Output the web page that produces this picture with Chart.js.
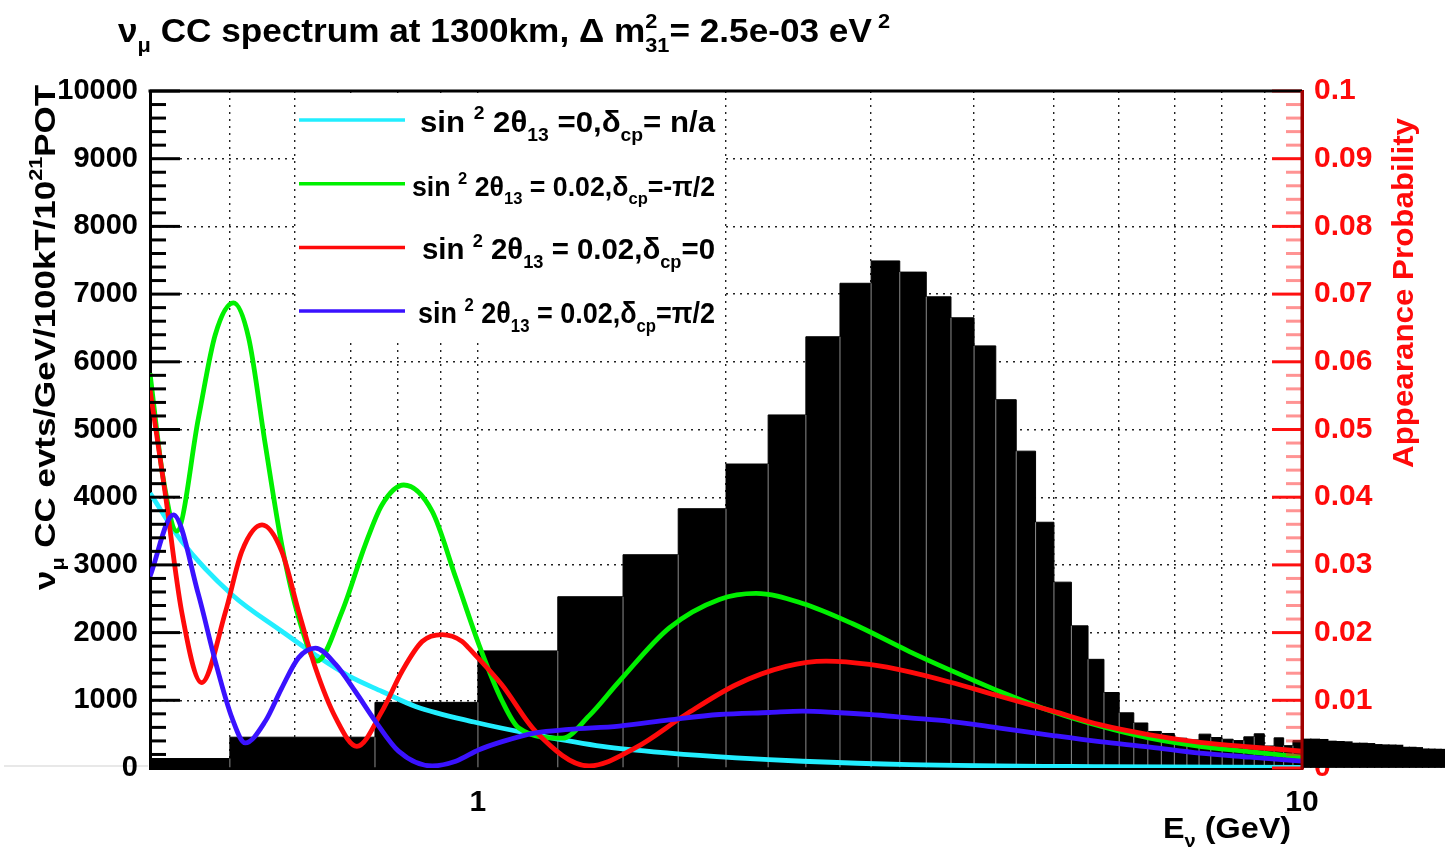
<!DOCTYPE html>
<html>
<head>
<meta charset="utf-8">
<script src="https://cdn.jsdelivr.net/npm/chart.js@4.4.1/dist/chart.umd.min.js"></script>
<style>
  html, body { margin: 0; padding: 0; background: #fff; }
  #wrap { width: 1445px; height: 847px; }
</style>
</head>
<body>
<div id="wrap"><canvas id="spectrum" width="1445" height="847"></canvas></div>
<script>
// =========================
// DATA
// =========================
// numu CC spectrum, 0.25 GeV bins (low edges), events/GeV/100kT/1e21 POT
const histLowEdges = [0.25, 0.5, 0.75, 1.0, 1.25, 1.5, 1.75, 2.0, 2.25, 2.5, 2.75, 3.0, 3.25, 3.5, 3.75,
  4.0, 4.25, 4.5, 4.75, 5.0, 5.25, 5.5, 5.75, 6.0, 6.25, 6.5, 6.75, 7.0, 7.25, 7.5, 7.75,
  8.0, 8.25, 8.5, 8.75, 9.0, 9.25, 9.5, 9.75];
const histValues = [140, 455, 970, 1730, 2530, 3150, 3830, 4490, 5215, 6370, 7160, 7490, 7325, 6960, 6650,
  6235, 5440, 4680, 3630, 2745, 2100, 1605, 1115, 815, 665, 540, 510, 440, 415, 500, 450,
  425, 405, 460, 505, 325, 445, 330, 405];
const histTopEdge = 10;

// part of the spectrum drawn past the 10 GeV frame edge (bin centres)
const tailCenters = [10.125, 10.375, 10.625, 10.875, 11.125, 11.375, 11.625, 11.875, 12.125, 12.375,
  12.625, 12.875, 13.125, 13.375, 13.625, 13.875, 14.125, 14.375, 14.625, 14.875];
const tailValues = [425, 425, 420, 395, 390, 385, 365, 365, 360, 345, 340, 338, 335, 305, 305, 300, 280, 278, 276, 274];

// appearance probability curves (energy GeV, probability)
const cyanE = [0.4, 0.437, 0.503, 0.578, 0.635, 0.697, 0.765, 0.84, 0.989, 1.175, 1.416, 1.707, 2.057, 2.478, 3.339, 5.683, 10];
const cyanP = [0.0406, 0.0335, 0.0256, 0.0202, 0.0167, 0.0136, 0.0113, 0.0091, 0.0068, 0.0049, 0.0032, 0.0022, 0.0015, 0.0010, 0.0005, 0.0002, 0.0001];

const greenE = [0.4, 0.415, 0.431, 0.458, 0.48, 0.505, 0.527, 0.552, 0.578, 0.606, 0.638, 0.684, 0.73, 0.765, 0.813,
  0.88, 0.94, 1.003, 1.07, 1.121, 1.266, 1.364, 1.484, 1.707, 1.963, 2.175, 2.478, 2.85, 3.339, 3.736, 4.297,
  4.986, 5.683, 6.538, 7.517, 8.645, 10];
const greenP = [0.0583, 0.0428, 0.0350, 0.0517, 0.0640, 0.0687, 0.0635, 0.0478, 0.0330, 0.0222, 0.0158, 0.0231, 0.0330, 0.0389, 0.0418,
  0.0379, 0.0281, 0.0182, 0.0099, 0.0059, 0.0044, 0.0077, 0.0128, 0.0207, 0.0249, 0.0258, 0.0243, 0.0213, 0.0172, 0.0145, 0.0113,
  0.0083, 0.0062, 0.0044, 0.0032, 0.0024, 0.0016];

const redE = [0.4, 0.417, 0.437, 0.462, 0.494, 0.517, 0.547, 0.578, 0.606, 0.635, 0.672, 0.713, 0.765, 0.809, 0.856,
  0.905, 0.957, 0.975, 1.069, 1.175, 1.364, 1.554, 1.788, 2.057, 2.365, 2.646, 2.987, 3.339, 3.736, 4.297, 4.986,
  5.683, 6.538, 7.517, 8.645, 10];
const redP = [0.0559, 0.0409, 0.0231, 0.0126, 0.0231, 0.0320, 0.0359, 0.0320, 0.0231, 0.0148, 0.0074, 0.0032, 0.0084, 0.0143, 0.0187,
  0.0197, 0.0187, 0.0177, 0.0123, 0.0054, 0.0003, 0.0030, 0.0079, 0.0123, 0.0150, 0.0158, 0.0153, 0.0142, 0.0127, 0.0106, 0.0084,
  0.0064, 0.0049, 0.0038, 0.0031, 0.0025];

const blueE = [0.4, 0.427, 0.458, 0.48, 0.503, 0.522, 0.552, 0.578, 0.606, 0.635, 0.672, 0.71, 0.751, 0.801, 0.88,
  0.94, 1.003, 1.07, 1.175, 1.29, 1.484, 1.707, 1.963, 2.257, 2.478, 2.72, 2.987, 3.339, 3.736, 4.297, 4.986,
  5.683, 6.538, 7.517, 8.645, 10];
const blueP = [0.0283, 0.0374, 0.0256, 0.0158, 0.0074, 0.0037, 0.0069, 0.0118, 0.0163, 0.0177, 0.0153, 0.0113, 0.0069, 0.0025, 0.0003,
  0.0010, 0.0027, 0.0039, 0.0052, 0.0057, 0.0062, 0.0071, 0.0079, 0.0082, 0.0084, 0.0082, 0.0079, 0.0074, 0.0069, 0.0059, 0.0048,
  0.0039, 0.0031, 0.0022, 0.0016, 0.0010];

// axes
const xGridValues = [0.4, 0.5, 0.6, 0.7, 0.8, 0.9, 1, 2, 3, 4, 5, 6, 7, 8, 9, 10];
const xLabelValues = [1, 10];
const xRange = [0.4, 10];
const yRange = [0, 10000];
const probRange = [0, 0.1];

// texts (^{..} superscript, _{..} subscript)
const titleText = "ν_{μ} CC spectrum at 1300km, Δ m^{2}_{31}= 2.5e-03 eV^{ 2}";
const yTitleText = "ν_{μ} CC evts/GeV/100kT/10^{21}POT";
const probTitleText = "Appearance Probability";
const xTitleText = "E_{ν} (GeV)";
const curveLabels = [
  "sin ^{2} 2θ_{13} =0,δ_{cp}= n/a",
  "sin ^{2} 2θ_{13} = 0.02,δ_{cp}=-π/2",
  "sin ^{2} 2θ_{13} = 0.02,δ_{cp}=0",
  "sin ^{2} 2θ_{13} = 0.02,δ_{cp}=π/2"
];
const curveColors = ["#22eeff", "#00f000", "#ff0a0a", "#3a12ff"];

// =========================
// HELPERS
// =========================
const FONT = "'Liberation Sans', Arial, Helvetica, sans-serif";
const pairs = (xs, ys) => xs.map((x, i) => ({ x, y: ys[i] }));

const parseRich = (str) => {                         // split "a^{b}_{c}" into pieces
  const parts = [];
  const re = /([\^_])\{([^}]*)\}/g;
  let last = 0, m;
  while ((m = re.exec(str))) {
    if (m.index > last) parts.push({ t: str.slice(last, m.index), k: "n" });
    parts.push({ t: m[2], k: m[1] === "^" ? "sup" : "sub" });
    last = re.lastIndex;
  }
  if (last < str.length) parts.push({ t: str.slice(last), k: "n" });
  return parts;
};

// draws TLatex-like text; "width" stretches the run to a given length
const drawRich = (ctx, str, x, y, size, color, align, width) => {
  const parts = parseRich(str);
  const small = size * 0.62;
  const shift = (k) => (k === "sup" ? -size * 0.42 : k === "sub" ? size * 0.3 : 0);
  const items = [];
  let cx = 0;
  for (let i = 0; i < parts.length; i++) {
    const p = parts[i];
    const s = p.k === "n" ? size : small;
    ctx.font = `bold ${s}px ${FONT}`;
    const w = ctx.measureText(p.t).width;
    items.push({ t: p.t, s, x: cx, dy: shift(p.k) });
    const nx = parts[i + 1];
    if (p.k !== "n" && nx && nx.k !== "n" && nx.k !== p.k) {    // stacked sup + sub
      const w2 = ctx.measureText(nx.t).width;
      items.push({ t: nx.t, s, x: cx, dy: shift(nx.k) });
      cx += Math.max(w, w2);
      i++;
    } else {
      cx += w;
    }
  }
  const total = width || cx;
  const f = total / cx;
  const x0 = align === "right" ? x - total : align === "center" ? x - total / 2 : x;
  ctx.save();
  ctx.translate(x0, y);
  ctx.scale(f, 1);
  ctx.fillStyle = color;
  ctx.textAlign = "left";
  ctx.textBaseline = "alphabetic";
  items.forEach(it => {
    ctx.font = `bold ${it.s}px ${FONT}`;
    ctx.fillText(it.t, it.x, it.dy);
  });
  ctx.restore();
  return total;
};

// =========================
// ROOT-STYLE DECORATIONS (inner ticks, frame, legend, titles)
// =========================
const legendSizes = [30, 28, 30, 29];                 // TLegend scales each row differently
const legendWidths = [295, 303, 293, 297];

const rootDecor = {
  id: "rootDecor",
  afterDatasetsDraw(chart) {
    const { ctx, chartArea: a, scales } = chart;
    const y = scales.y, y2 = scales.y2;
    ctx.save();

    // inner ticks on the left axis
    ctx.lineWidth = 3;
    ctx.strokeStyle = "#000";
    for (let v = yRange[0]; v <= yRange[1]; v += 200) {
      const py = y.getPixelForValue(v);
      const len = v % 1000 === 0 ? 30 : 16;
      ctx.beginPath(); ctx.moveTo(a.left, py); ctx.lineTo(a.left + len, py); ctx.stroke();
    }
    // inner ticks on the right (probability) axis
    for (let k = 0; k <= 50; k++) {
      const py = y2.getPixelForValue(k * 0.002);
      const major = k % 5 === 0;
      ctx.strokeStyle = major ? "#ff1010" : "rgba(255,40,40,0.5)";
      const len = major ? 30 : 16;
      ctx.beginPath(); ctx.moveTo(a.right, py); ctx.lineTo(a.right - len, py); ctx.stroke();
    }
    // frame: top black, right dark red
    ctx.strokeStyle = "#000";
    ctx.beginPath(); ctx.moveTo(a.left - 1.5, a.top); ctx.lineTo(a.right, a.top); ctx.stroke();
    ctx.strokeStyle = "#a00000";
    ctx.beginPath(); ctx.moveTo(a.right, a.top); ctx.lineTo(a.right, a.bottom + 2); ctx.stroke();
    // faint baseline left of the zero label
    ctx.strokeStyle = "rgba(0,0,0,0.18)";
    ctx.lineWidth = 1;
    ctx.beginPath(); ctx.moveTo(4, a.bottom - 2); ctx.lineTo(a.left - 2, a.bottom - 2); ctx.stroke();

    // legend box
    const box = { left: 298, top: 93, right: 722, bottom: 338 };
    ctx.fillStyle = "#fff";
    ctx.fillRect(box.left, box.top, box.right - box.left, box.bottom - box.top);
    chart.data.datasets.filter(ds => ds.legendRow !== undefined).forEach(ds => {
      const r = ds.legendRow;
      const ly = 120 + r * 63.7;
      ctx.strokeStyle = ds.borderColor;
      ctx.lineWidth = 3.5;
      ctx.beginPath(); ctx.moveTo(box.left + 1, ly); ctx.lineTo(405, ly); ctx.stroke();
      drawRich(ctx, ds.label, 715, ly + 12, legendSizes[r], "#000", "right", legendWidths[r]);
    });

    // titles
    drawRich(ctx, titleText, 118, 42, 33, "#000", "left", 772);
    drawRich(ctx, xTitleText, 1163, 838, 29, "#000", "left", 128);

    ctx.save();
    ctx.translate(55, 590);
    ctx.rotate(-Math.PI / 2);
    drawRich(ctx, yTitleText, 0, 0, 30, "#000", "left", 505);
    ctx.restore();

    ctx.save();
    ctx.translate(1413, 293);
    ctx.rotate(-Math.PI / 2);
    drawRich(ctx, probTitleText, 0, 0, 30, "#ff0a0a", "center", 350);
    ctx.restore();

    ctx.restore();
  }
};

// =========================
// DATASETS
// =========================
const histStep = pairs(histLowEdges, histValues).concat([{ x: histTopEdge, y: histValues[histValues.length - 1] }]);
const binSeparators = histLowEdges.slice(1).map((e, i) => ({ x: e, y: Math.min(histValues[i], histValues[i + 1]) }));

const curve = (label, xs, ys, color, row, order) => ({
  type: "line",
  label,
  data: pairs(xs, ys),
  yAxisID: "y2",
  borderColor: color,
  backgroundColor: color,
  borderWidth: 4.8,
  pointRadius: 0,
  fill: false,
  cubicInterpolationMode: "monotone",
  legendRow: row,
  order
});

const datasets = [
  curve(curveLabels[0], cyanE, cyanP, curveColors[0], 0, 4),
  curve(curveLabels[1], greenE, greenP, curveColors[1], 1, 3),
  curve(curveLabels[2], redE, redP, curveColors[2], 2, 2),
  curve(curveLabels[3], blueE, blueP, curveColors[3], 3, 1),
  {
    type: "bar",                                   // thin gray bin edges seen inside the black bars
    label: "edges",
    data: binSeparators,
    yAxisID: "y",
    backgroundColor: "#8c8c8c",
    barThickness: 1,
    grouped: false,
    inflateAmount: 0,
    order: 5
  },
  {
    type: "bar",                                   // spectrum beyond 10 GeV, outside the frame
    label: "tail",
    data: pairs(tailCenters, tailValues),
    yAxisID: "y",
    backgroundColor: "#000",
    barThickness: "flex",
    barPercentage: 1,
    categoryPercentage: 1,
    inflateAmount: 0.6,
    clip: false,
    order: 6
  },
  {
    type: "line",                                  // main histogram
    label: "spectrum",
    data: histStep,
    yAxisID: "y",
    stepped: true,
    borderColor: "#000",
    borderWidth: 1,
    backgroundColor: "#000",
    fill: "origin",
    pointRadius: 0,
    order: 7
  }
];

// =========================
// CHART
// =========================
const dotted = [2, 5];

new Chart(document.getElementById("spectrum"), {
  type: "line",
  data: { datasets },
  options: {
    responsive: false,
    animation: false,
    events: [],
    layout: { padding: { top: 91, left: 0, right: 0, bottom: 0 } },
    plugins: { legend: { display: false }, title: { display: false }, tooltip: { enabled: false } },
    scales: {
      x: {
        type: "logarithmic",
        min: xRange[0],
        max: xRange[1],
        offset: false,
        afterBuildTicks: (s) => { s.ticks = xGridValues.map(v => ({ value: v })); },
        afterFit: (s) => { s.height = 79; },
        ticks: {
          autoSkip: false,
          maxRotation: 0,
          padding: 17,
          color: "#000",
          font: { family: FONT, size: 30, weight: "bold" },
          callback: (v) => (xLabelValues.includes(v) ? String(v) : "")
        },
        grid: {
          offset: false,
          drawTicks: false,
          lineWidth: 1.4,
          color: (c) => (c.tick && (c.tick.value === xRange[0] || c.tick.value === xRange[1]) ? "rgba(0,0,0,0)" : "#222")
        },
        border: { display: true, color: "#000", width: 3, dash: dotted }
      },
      y: {
        position: "left",
        min: yRange[0],
        max: yRange[1],
        afterFit: (s) => { s.width = 150; },
        ticks: {
          stepSize: 1000,
          padding: 12,
          color: "#000",
          font: { family: FONT, size: 29, weight: "bold" },
          callback: (v) => String(v)
        },
        grid: {
          drawTicks: false,
          lineWidth: 1.4,
          color: (c) => (c.tick && (c.tick.value === yRange[0] || c.tick.value === yRange[1]) ? "rgba(0,0,0,0)" : "#222")
        },
        border: { display: true, color: "#000", width: 3, dash: dotted }
      },
      y2: {
        position: "right",
        min: probRange[0],
        max: probRange[1],
        afterFit: (s) => { s.width = 143; },
        ticks: {
          stepSize: 0.01,
          padding: 12,
          color: "#ff0a0a",
          font: { family: FONT, size: 30, weight: "bold" },
          callback: (v) => String(+v.toFixed(2))
        },
        grid: { drawOnChartArea: false, drawTicks: false },
        border: { display: true, color: "#a00000", width: 3 }
      }
    }
  },
  plugins: [rootDecor]
});
</script>
</body>
</html>
